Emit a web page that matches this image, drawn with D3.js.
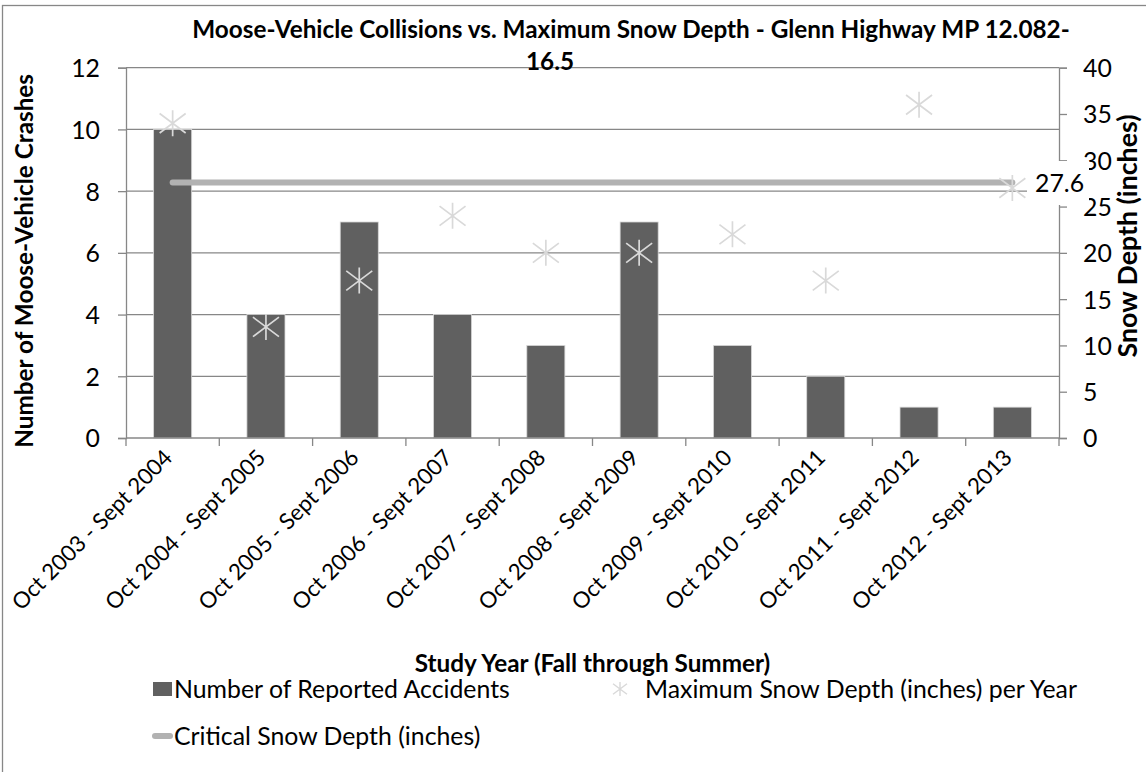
<!DOCTYPE html>
<html><head><meta charset="utf-8">
<script src="https://cdn.jsdelivr.net/npm/d3@7/dist/d3.min.js"></script>
<style>
html,body{margin:0;padding:0;background:#fff;}
svg text{font-family:Lato,"Open Sans",sans-serif;fill:#000;}
</style></head>
<body><svg id="c" width="1146" height="772"></svg>
<script>
const categories = ["Oct 2003 - Sept 2004","Oct 2004 - Sept 2005","Oct 2005 - Sept 2006","Oct 2006 - Sept 2007","Oct 2007 - Sept 2008","Oct 2008 - Sept 2009","Oct 2009 - Sept 2010","Oct 2010 - Sept 2011","Oct 2011 - Sept 2012","Oct 2012 - Sept 2013"];
const crashes = [10,4,7,4,3,7,3,2,1,1];
const snowDepth = [34,12,17,24,20,20,22,17,36,27];
const criticalDepth = 27.6;
const leftTicks = [0,2,4,6,8,10,12];
const rightTicks = [0,5,10,15,20,25,30,35,40];
const titleLine1 = "Moose-Vehicle Collisions vs. Maximum Snow Depth - Glenn Highway MP 12.082-";
const titleLine2 = "16.5";
const yTitleLeft = "Number of Moose-Vehicle Crashes";
const yTitleRight = "Snow Depth (inches)";
const xTitle = "Study Year (Fall through Summer)";
const legendLabels = ["Number of Reported Accidents","Maximum Snow Depth (inches) per Year","Critical Snow Depth (inches)"];

const svg = d3.select("#c");
const L = 126, R = 1059, T = 67.7, B = 438;
const axisColor = "#878787";

function measure(txt, size, weight){
  const t = svg.append("text").attr("font-size",size).attr("font-weight",weight).text(txt);
  const w = t.node().getComputedTextLength(); t.remove(); return w;
}
const fsBold = 100 * 878 / measure(titleLine1, 100, "bold");
const fsReg = 100 * 336 / measure(legendLabels[0], 100, "normal");

// frame
svg.append("rect").attr("x",2.5).attr("y",5.5).attr("width",1170).attr("height",800)
  .attr("fill","none").attr("stroke",axisColor).attr("stroke-width",1.3);

const x = d3.scaleBand().domain(categories).range([L,R]).paddingInner(0.592).paddingOuter(0.296);
const xc = d => x(d) + x.bandwidth()/2;
const yL = d3.scaleLinear().domain([0,12]).range([B,T]);
const yR = d3.scaleLinear().domain([0,40]).range([B,T]);

// gridlines
svg.append("g").selectAll("line").data(leftTicks.filter(d=>d>0)).join("line")
  .attr("x1",L).attr("x2",R).attr("y1",d=>yL(d)).attr("y2",d=>yL(d))
  .attr("stroke",axisColor).attr("stroke-width",1.3);

// bars
svg.append("g").selectAll("rect").data(crashes).join("rect")
  .attr("x",(d,i)=>x(categories[i])).attr("width",x.bandwidth())
  .attr("y",d=>yL(d)).attr("height",d=>B-yL(d))
  .attr("fill","#606060").attr("stroke","#d8d8d8").attr("stroke-width",0.8);

// left axis
const gl = svg.append("g").attr("transform",`translate(${L},0)`)
  .call(d3.axisLeft(yL).tickValues(leftTicks).tickSize(8).tickPadding(18));
gl.select(".domain").attr("stroke",axisColor).attr("stroke-width",1.3);
gl.selectAll(".tick line").attr("stroke",axisColor).attr("stroke-width",1.3);
gl.selectAll(".tick text").attr("font-size",fsReg).attr("fill","#000").attr("font-family","Lato").attr("dy","0.36em");

// right axis
const gr = svg.append("g").attr("transform",`translate(${R},0)`)
  .call(d3.axisRight(yR).tickValues(rightTicks).tickSize(8).tickPadding(16));
gr.select(".domain").attr("stroke",axisColor).attr("stroke-width",1.3);
gr.selectAll(".tick line").attr("stroke",axisColor).attr("stroke-width",1.3);
gr.selectAll(".tick text").attr("font-size",fsReg).attr("fill","#000").attr("font-family","Lato").attr("dy","0.36em");

// bottom axis
const xEdge = d3.scaleLinear().domain([0,categories.length]).range([L,R]);
svg.append("line").attr("x1",L).attr("x2",R).attr("y1",B).attr("y2",B).attr("stroke",axisColor).attr("stroke-width",1.3);
svg.append("g").selectAll("line").data(d3.range(categories.length+1)).join("line")
  .attr("x1",d=>xEdge(d)).attr("x2",d=>xEdge(d)).attr("y1",B).attr("y2",B+8)
  .attr("stroke",axisColor).attr("stroke-width",1.3);
svg.append("g").selectAll("text").data(categories).join("text")
  .attr("transform",d=>`translate(${xc(d)+1},${B+21}) rotate(-45)`)
  .attr("text-anchor","end").attr("font-size",fsReg*0.9).text(d=>d);

// critical line
svg.append("line")
  .attr("x1",xc(categories[0])).attr("x2",xc(categories[categories.length-1]))
  .attr("y1",yR(criticalDepth)).attr("y2",yR(criticalDepth))
  .attr("stroke","#b2b2b2").attr("stroke-width",6).attr("stroke-linecap","round");

// star markers
function star(g, cx, cy, r, w){
  g.append("path").attr("d",`M${cx},${cy-r}L${cx},${cy+r}M${cx-r},${cy-r*0.75}L${cx+r},${cy+r*0.75}M${cx-r},${cy+r*0.75}L${cx+r},${cy-r*0.75}`)
   .attr("stroke","#d9d9d9").attr("stroke-width",w).attr("fill","none");
}
const gs = svg.append("g");
snowDepth.forEach((v,i)=>star(gs, xc(categories[i]), yR(v), 13, 1.7));

// label 27.6 with white background
const ly = yR(criticalDepth);
svg.append("rect").attr("x",1027).attr("y",161).attr("width",62).attr("height",44).attr("fill","#fff");
svg.append("text").attr("x",1035).attr("y",ly+1).attr("dy","0.36em").attr("font-size",fsReg).text(criticalDepth);

// titles
svg.append("text").attr("x",631).attr("y",38).attr("text-anchor","middle").attr("font-size",fsBold).attr("font-weight","bold")
  .text(titleLine1);
svg.append("text").attr("x",550).attr("y",70).attr("text-anchor","middle").attr("font-size",fsBold).attr("font-weight","bold").text(titleLine2);

svg.append("text").attr("transform",`translate(33,${(T+B)/2+8}) rotate(-90)`).attr("text-anchor","middle")
  .attr("font-size",fsBold).attr("font-weight","bold").text(yTitleLeft);
svg.append("text").attr("transform",`translate(1137,236) rotate(-90)`).attr("text-anchor","middle")
  .attr("font-size",fsBold*1.1).attr("font-weight","bold").text(yTitleRight);

svg.append("text").attr("x",(L+R)/2).attr("y",672).attr("text-anchor","middle").attr("font-size",fsBold).attr("font-weight","bold")
  .text(xTitle);

// legend
const lg = svg.append("g");
lg.append("rect").attr("x",153).attr("y",682).attr("width",19).attr("height",14).attr("fill","#606060");
lg.append("text").attr("x",174).attr("y",689).attr("dy","0.36em").attr("font-size",fsReg).text(legendLabels[0]);
star(lg, 620, 689, 7, 1.4);
lg.append("text").attr("x",645).attr("y",689).attr("dy","0.36em").attr("font-size",fsReg).text(legendLabels[1]);
lg.append("line").attr("x1",155).attr("x2",170).attr("y1",736).attr("y2",736).attr("stroke","#b2b2b2").attr("stroke-width",6).attr("stroke-linecap","round");
lg.append("text").attr("x",174).attr("y",736).attr("dy","0.36em").attr("font-size",fsReg).text(legendLabels[2]);
</script></body></html>
